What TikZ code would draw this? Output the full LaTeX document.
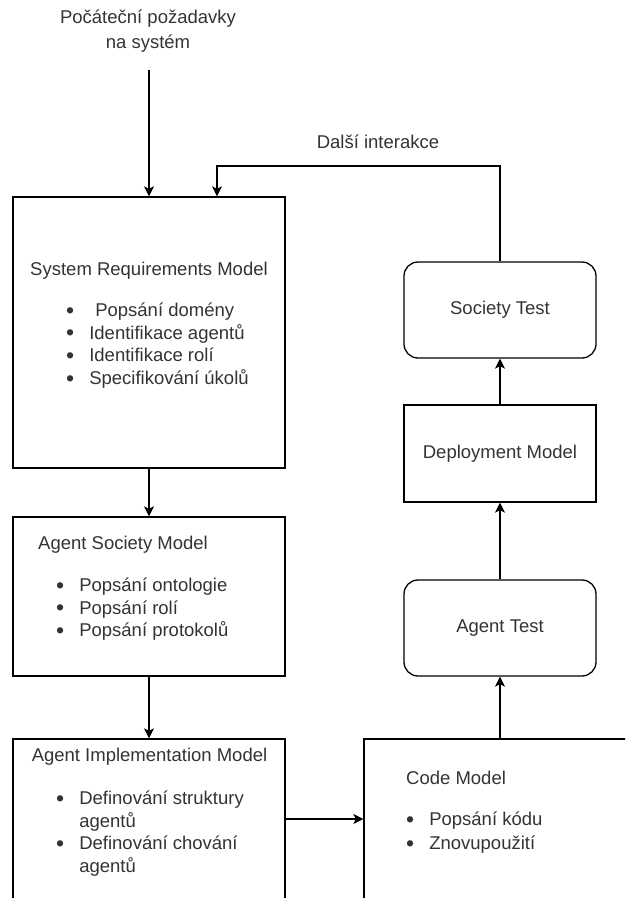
\documentclass[tikz,border=0pt]{standalone}
\usepackage{fontspec}
\setmainfont{Liberation Sans}
\usetikzlibrary{arrows.meta}
\definecolor{txtgray}{HTML}{333333}
\newcommand{\bul}{\raisebox{-1.6pt}{\scalebox{1.25}{\textbullet}}}
\newcommand{\blist}[1]{\begin{tabular}[t]{@{}l@{\hspace{15pt}}l@{}}#1\end{tabular}}

\begin{document}
\begin{tikzpicture}[x=1pt, y=-1pt,
    box/.style={draw, line width=1.3pt, inner sep=0pt, minimum width=192pt, font=\fontsize{18.5}{22.6}\selectfont, text=txtgray},
    rbox/.style={box, rounded corners=14pt},
    txt/.style={inner sep=0pt, font=\fontsize{18.5}{22.6}\selectfont, text=txtgray},
    arr/.style={line width=1.3pt, -{Stealth[length=10pt, width=10pt, inset=2.5pt]}}
]
    \useasboundingbox (0,0) rectangle (625,898);
    \clip (0,0) rectangle (625,898);
    % Input
    \node[txt, align=center, font=\fontsize{18.5}{25}\selectfont] (req) at (148,31) {Počáteční požadavky\\na systém};
    \coordinate (in) at (149,70);
    % Left column
    \node[box, minimum width=272pt, minimum height=271pt] (srm) at (149,332.5) {};
    \node[box, minimum width=272pt, minimum height=159pt] (asm) at (149,596.5) {};
    \node[box, minimum width=272pt, minimum height=160pt] (aim) at (149,819) {};
    \node[txt, anchor=base] (srmtitle) at (149,275.7) {System Requirements Model};
    \node[txt, anchor=base west] (srmlist) at (66,316.7) {\blist{\bul & \hspace{6pt}Popsání domény\\ \bul & Identifikace agentů\\ \bul & Identifikace rolí\\ \bul & Specifikování úkolů}};
    \node[txt, anchor=base west] (asmtitle) at (38,549.7) {Agent Society Model};
    \node[txt, anchor=base west] (asmlist) at (56,591.7) {\blist{\bul & Popsání ontologie\\ \bul & Popsání rolí\\ \bul & Popsání protokolů}};
    \node[txt, anchor=base] (aimtitle) at (149.5,761.7) {Agent Implementation Model};
    \node[txt, anchor=base west] (aimlist) at (56,804.7) {\blist{\bul & Definování struktury\\ & agentů\\ \bul & Definování chování\\ & agentů}};
    % Right column
    \node[box, minimum width=340pt, minimum height=160pt] (code) at (534,819) {};
    \node[txt, anchor=base west] (codetitle) at (406,784.7) {Code Model};
    \node[txt, anchor=base west] (codelist) at (406,825.7) {\blist{\bul & Popsání kódu\\[1.4pt] \bul & Znovupoužití}};
    \node[rbox, minimum height=96pt] (at) at (500,628) {Agent Test};
    \node[box, minimum height=97pt] (dep) at (500,453.5) {Deployment Model};
    \node[rbox, minimum height=96pt] (soc) at (500,310) {Society Test};
    % Arrows
    \draw[arr] (in) -- (srm);
    \foreach \a/\b in {srm/asm, asm/aim, aim/code, at/dep, dep/soc} {
        \draw[arr] (\a) -- (\b);
    }
    \draw[arr] (code.north -| at.south) -- (at.south);
    % Feedback
    \coordinate (back) at (217,166);
    \draw[arr] (soc.north) |- (back) -- (back |- srm.north);
    \node[txt] (next) at (378,142) {Další interakce};
\end{tikzpicture}
\end{document}
